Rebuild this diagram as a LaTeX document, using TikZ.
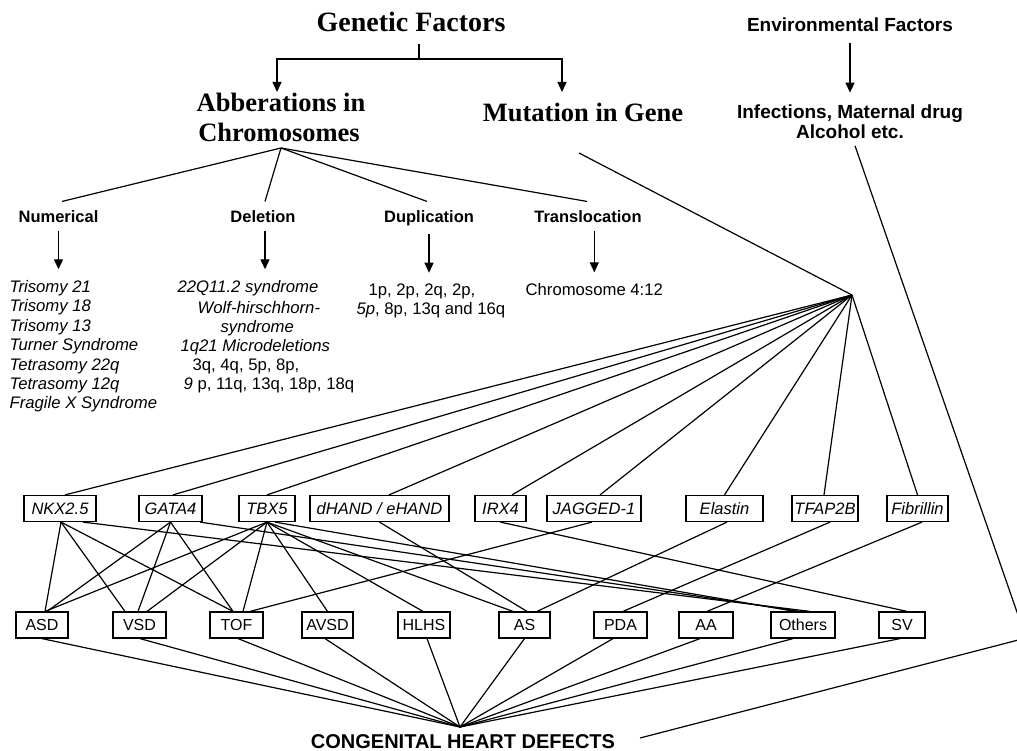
\documentclass[tikz,border=0pt]{standalone}
\usepackage{fontspec}
\setmainfont{Liberation Serif}
\newfontfamily\arial{Liberation Sans}
\usetikzlibrary{arrows.meta}
\begin{document}
\begin{tikzpicture}[x=1pt,y=-1pt,line width=1.2pt,
  arr/.style={-{Triangle[length=10pt,width=9pt]},line width=1.3pt},
  ttl/.style={font=\fontsize{28}{32}\selectfont\bfseries,inner sep=0,anchor=base},
  sub/.style={font=\fontsize{26.5}{30}\selectfont\bfseries,inner sep=0,anchor=base},
  envt/.style={font=\arial\fontsize{19}{21}\selectfont\bfseries,inner sep=0,anchor=base},
  cat/.style={font=\arial\fontsize{16.5}{19}\selectfont\bfseries,inner sep=0,anchor=base},
  lst/.style={font=\arial\fontsize{16.7}{19}\selectfont,inner sep=0,anchor=base west},
  gene/.style={draw,line width=1.2pt,font=\arial\itshape\fontsize{16.5}{18}\selectfont,minimum height=26pt,inner sep=0},
  defect/.style={draw,line width=1.2pt,font=\arial\fontsize{16}{18}\selectfont,minimum height=26pt,inner sep=0},
]
\useasboundingbox (0,0) rectangle (1017,751);

% titles
\node[ttl] (gen) at (411,32) {Genetic Factors};
\node[sub] (abb1) at (281,112) {Abberations in};
\node[sub] (abb2) at (279,142) {Chromosomes};
\node[sub] (mut) at (583,122) {Mutation in Gene};
\node[envt] (env) at (850,32) {Environmental Factors};
\node[envt] (inf1) at (850,119) {Infections, Maternal drug};
\node[envt] (inf2) at (850,139) {Alcohol etc.};

\coordinate (gj) at (419,59);
\coordinate (ga) at (277,92);
\coordinate (gm) at (562,92);
\draw[shorten <=11pt] ([xshift=8pt]gen.south) -- (gj);
\draw[arr] (gj) -| (ga);
\draw[arr] (gj) -| (gm);
\draw[arr,shorten <=10pt,shorten >=12pt] (env.south) -- (env.south |- inf1.north);

% chromosome categories
\node[cat] (num) at (58.5,223) {Numerical};
\node[cat] (del) at (263,223) {Deletion};
\node[cat] (dup) at (429,223) {Duplication};
\node[cat] (tra) at (588,223) {Translocation};
\coordinate (chub) at (281,148);
\foreach \n/\s in {num/3.5,del/2,dup/-2,tra/-1}
  \draw (chub) -- ([xshift=\s pt,yshift=9pt]\n.north);

\foreach \t/\yy [count=\i] in {{Trisomy 21}/293,{Trisomy 18}/312,{Trisomy 13}/331,{Turner Syndrome}/350,{Tetrasomy 22q}/370,{Tetrasomy 12q}/389,{Fragile X Syndrome}/408}
  \node[lst] (n\i) at (9,\yy) {\itshape\t};
\foreach \t/\xx/\yy [count=\i] in {{\itshape 22Q11.2 syndrome}/177/293,{\itshape Wolf-hirschhorn-}/197/313,{\itshape syndrome}/220/332,{\itshape 1q21 Microdeletions}/180/351,{3q, 4q, 5p, 8p,}/192/370,{\textit{9} p, 11q, 13q, 18p, 18q}/183/389}
  \node[lst] (d\i) at (\xx,\yy) {\t};
\node[lst] (u1) at (368,296) {1p, 2p, 2q, 2p,};
\node[lst] (u2) at (356,314) {\textit{5p}, 8p, 13q and 16q};
\node[lst] (chr) at (525,296) {Chromosome 4:12};

\draw[arr,shorten <=7pt,shorten >=11pt] (num.south) -- (num.south |- n1.north);
\draw[arr,shorten <=7pt,shorten >=11pt] ([xshift=2pt]del.south) -- ([xshift=2pt]del.south |- d1.north);
\draw[arr,shorten <=7pt,shorten >=11pt] (dup.south) -- (dup.south |- u1.north);
\draw[arr,shorten <=7pt,shorten >=11pt] (chr.north |- tra.south) -- (chr.north);

% genes
\node[gene,minimum width=72pt] (nkx) at (60,508.5) {NKX2.5};
\node[gene,minimum width=63pt] (gata) at (170.5,508.5) {GATA4};
\node[gene,minimum width=56pt] (tbx) at (267,508.5) {TBX5};
\node[gene,minimum width=139pt] (hand) at (379.5,508.5) {dHAND / eHAND};
\node[gene,minimum width=51pt] (irx) at (500.5,508.5) {IRX4};
\node[gene,minimum width=94pt] (jag) at (594,508.5) {JAGGED-1};
\node[gene,minimum width=77pt] (ela) at (724.5,508.5) {Elastin};
\node[gene,minimum width=66pt] (tfap) at (825,508.5) {TFAP2B};
\node[gene,minimum width=61pt] (fib) at (917.5,508.5) {Fibrillin};

% defects
\node[defect,minimum width=52pt] (asd) at (42,625) {ASD};
\node[defect,minimum width=53pt] (vsd) at (139.5,625) {VSD};
\node[defect,minimum width=53pt] (tof) at (236.5,625) {TOF};
\node[defect,minimum width=51pt] (avsd) at (327.5,625) {AVSD};
\node[defect,minimum width=52pt] (hlhs) at (424,625) {HLHS};
\node[defect,minimum width=51pt] (aos) at (524.5,625) {AS};
\node[defect,minimum width=53pt] (pda) at (620.5,625) {PDA};
\node[defect,minimum width=54pt] (aa) at (706,625) {AA};
\node[defect,minimum width=64pt] (oth) at (803,625) {Others};
\node[defect,minimum width=46pt] (sv) at (902,625) {SV};

% mutation hub
\coordinate (ghub) at (852,295);
\coordinate (mstart) at (579,153);
\draw (mstart) -- (ghub);
\foreach \g/\s in {nkx/5,gata/2.5,tbx/0,hand/9.5,irx/11.5,jag/6,ela/0,tfap/-1,fib/0}
  \draw (ghub) -- ([xshift=\s pt]\g.north);

% gene -> defect
\foreach \g/\a/\d/\b in {nkx/1/asd/3,nkx/1/vsd/-14.5,nkx/1/tof/-3.5,nkx/23/oth/7,
  gata/0/asd/5,gata/0/vsd/-1.5,gata/0/tof/-3.5,gata/29.5/oth/-3,
  tbx/0/asd/3,tbx/0/vsd/7.5,tbx/0/tof/6.5,tbx/0/avsd/0,tbx/0/hlhs/-1,tbx/0/aos/-11.5,tbx/8/oth/-8,
  hand/0/aos/2.5,irx/0/sv/5,jag/-2/tof/13.5,ela/2.5/aos/12.5,tfap/5/pda/2.5,fib/4.5/aa/1}
  \draw ([xshift=\a pt]\g.south) -- ([xshift=\b pt]\d.north);

% congenital heart defects
\node[font=\arial\fontsize{20}{22}\selectfont\bfseries,inner sep=0,anchor=base] (chd) at (463,748) {CONGENITAL HEART DEFECTS};
\coordinate (chub2) at (460,727);
\foreach \d/\s in {asd/0,vsd/0.5,tof/1.5,avsd/-2.5,hlhs/3,aos/0,pda/-7.5,aa/-6,oth/-10,sv/-2}
  \draw ([xshift=\s pt]\d.south) -- (chub2);

% environmental path
\begin{scope}
\clip (0,0) rectangle (1017,751);
\coordinate (ecorner) at (1026,638);
\coordinate (eend) at (640,738);
\draw ([xshift=5pt,yshift=-6pt]inf2.south) -- (ecorner) -- (eend);
\end{scope}
\end{tikzpicture}
\end{document}
